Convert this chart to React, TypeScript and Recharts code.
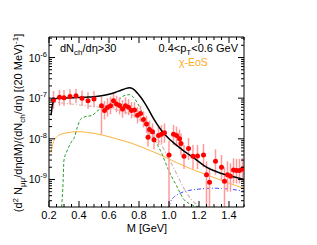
import { ComposedChart, Line, Scatter, XAxis, YAxis, ErrorBar } from "recharts";

// measured points: mass, yield, bottom and top of the error bar
const dataMass = [0.23, 0.27, 0.3, 0.34, 0.38, 0.42, 0.46, 0.5, 0.55, 0.57, 0.59, 0.61, 0.63, 0.65, 0.67, 0.69, 0.71, 0.73, 0.75, 0.77, 0.79, 0.81, 0.83, 0.85, 0.86, 0.87, 0.89, 0.9, 0.93, 0.95, 0.97, 1.0, 1.03, 1.05, 1.07, 1.08, 1.1, 1.13, 1.16, 1.19, 1.23, 1.25, 1.27, 1.31, 1.35, 1.37, 1.39, 1.41, 1.43, 1.45, 1.47, 1.49];
const dataYield = [9.0e-8, 1.05e-7, 1.03e-7, 1.1e-7, 1.15e-7, 1.0e-7, 8.7e-8, 9.6e-8, 6.5e-8, 5.0e-8, 5.9e-8, 6.5e-8, 8.6e-8, 7.2e-8, 6.6e-8, 5.4e-8, 6.5e-8, 6.0e-8, 5.0e-8, 5.1e-8, 3.8e-8, 4.2e-8, 3.0e-8, 2.3e-8, 1.1e-8, 1.7e-8, 1.5e-8, 9.5e-9, 1.2e-8, 1.3e-8, 1.4e-8, 4.0e-9, 1.3e-8, 1.2e-8, 1.0e-8, 7.7e-9, 3.7e-9, 5.8e-9, 3.7e-9, 3.8e-9, 4.0e-9, 1.3e-9, 8.5e-10, 2.8e-9, 2.0e-9, 9.0e-10, 1.3e-9, 1.2e-9, 1.7e-9, 1.65e-9, 1.65e-9, 1.8e-9];
const dataLow = [5.5e-8, 6.5e-8, 6.5e-8, 7e-8, 7.5e-8, 6.5e-8, 5.5e-8, 6e-8, 1.3e-8, 3e-8, 3.5e-8, 4e-8, 5.5e-8, 4.5e-8, 4e-8, 3.3e-8, 4e-8, 3.8e-8, 3.2e-8, 3.3e-8, 2.4e-8, 2.7e-8, 1.9e-8, 1.4e-8, 6.5e-9, 1.05e-8, 9e-9, 5.5e-9, 7e-9, 7.5e-9, 8e-9, 2.1e-10, 7e-9, 6.5e-9, 5.5e-9, 4e-9, 1.8e-9, 3e-9, 1.8e-9, 1.8e-9, 2e-9, 2.1e-10, 2.1e-10, 1.3e-9, 9e-10, 2.1e-10, 5e-10, 5e-10, 8e-10, 8e-10, 8e-10, 9e-10];
const dataHigh = [1.5e-7, 1.6e-7, 1.6e-7, 1.65e-7, 1.7e-7, 1.55e-7, 1.4e-7, 1.5e-7, 1.1e-7, 8.5e-8, 1e-7, 1.1e-7, 1.35e-7, 1.15e-7, 1.05e-7, 9e-8, 1.05e-7, 9.5e-8, 8e-8, 8e-8, 6e-8, 6.5e-8, 4.7e-8, 3.7e-8, 1.8e-8, 2.8e-8, 2.4e-8, 1.6e-8, 2e-8, 2.2e-8, 2.4e-8, 9e-9, 2.2e-8, 2e-8, 1.7e-8, 1.35e-8, 7e-9, 1.05e-8, 7e-9, 7e-9, 7.5e-9, 2.8e-9, 2e-9, 5.5e-9, 4e-9, 2e-9, 2.8e-9, 2.5e-9, 3.3e-9, 3.2e-9, 3.2e-9, 3.4e-9];

// model curves
const totalMass = [0.212, 0.216, 0.22, 0.23, 0.24, 0.26, 0.3, 0.35, 0.4, 0.45, 0.5, 0.55, 0.6, 0.64, 0.68, 0.71, 0.735, 0.76, 0.78, 0.8, 0.83, 0.86, 0.9, 0.95, 1.0, 1.05, 1.1, 1.17, 1.25, 1.35, 1.45, 1.5];
const totalYield = [3.8e-8, 4.5e-8, 6e-8, 8.5e-8, 9.6e-8, 1.0e-7, 1.01e-7, 1.02e-7, 1.04e-7, 1.06e-7, 1.09e-7, 1.15e-7, 1.25e-7, 1.38e-7, 1.57e-7, 1.72e-7, 1.8e-7, 1.7e-7, 1.45e-7, 1.2e-7, 8.5e-8, 5.5e-8, 3e-8, 1.6e-8, 1e-8, 7e-9, 5e-9, 3.3e-9, 2.0e-9, 1.4e-9, 1.12e-9, 1.0e-9];

const rhoMass = [0.284, 0.292, 0.3, 0.32, 0.35, 0.37, 0.39, 0.41, 0.43, 0.46, 0.49, 0.52, 0.56, 0.6, 0.64, 0.67, 0.7, 0.735, 0.76, 0.79, 0.82, 0.85, 0.89, 0.95, 1.0, 1.05, 1.1, 1.15, 1.2];
const rhoYield = [2.1e-10, 6e-10, 3e-9, 5e-9, 8.5e-9, 1.1e-8, 2e-8, 3e-8, 3.4e-8, 3.6e-8, 3.8e-8, 4.8e-8, 5.8e-8, 6.6e-8, 7.6e-8, 9.5e-8, 1.15e-7, 1.22e-7, 1.08e-7, 7.5e-8, 4.5e-8, 2.5e-8, 1.2e-8, 4.5e-9, 1.6e-9, 7e-10, 3.2e-10, 2.4e-10, 2.1e-10];

const cocktailMass = [0.22, 0.3, 0.4, 0.5, 0.6, 0.7, 0.76, 0.8, 0.85, 0.9, 0.95, 1.0, 1.05, 1.1, 1.15, 1.21];
const cocktailYield = [8e-8, 7.5e-8, 6.8e-8, 6.2e-8, 5.6e-8, 4.6e-8, 3.8e-8, 3e-8, 2.2e-8, 1.4e-8, 7e-9, 3.2e-9, 1.4e-9, 6e-10, 3.2e-10, 2.1e-10];

const qgpMass = [0.212, 0.22, 0.23, 0.25, 0.28, 0.32, 0.38, 0.45, 0.55, 0.65, 0.75, 0.85, 0.95, 1.05, 1.15, 1.25, 1.35, 1.45, 1.5];
const qgpYield = [4.5e-9, 6e-9, 8.5e-9, 1.1e-8, 1.3e-8, 1.4e-8, 1.5e-8, 1.45e-8, 1.25e-8, 1.0e-8, 7.8e-9, 5.6e-9, 3.9e-9, 2.6e-9, 1.8e-9, 1.3e-9, 9.5e-10, 7e-10, 6e-10];

const charmMass = [1.0, 1.01, 1.03, 1.06, 1.1, 1.15, 1.2, 1.25, 1.3, 1.35, 1.4, 1.45, 1.5];
const charmYield = [2.1e-10, 2.8e-10, 3.6e-10, 4.3e-10, 5e-10, 5.5e-10, 5.8e-10, 6e-10, 6.1e-10, 6e-10, 5.8e-10, 5.5e-10, 5.1e-10];

const xTicks = [0.2, 0.25, 0.3, 0.35, 0.4, 0.45, 0.5, 0.55, 0.6, 0.65, 0.7, 0.75, 0.8, 0.85, 0.9, 0.95, 1.0, 1.05, 1.1, 1.15, 1.2, 1.25, 1.3, 1.35, 1.4, 1.45, 1.5];
const yTicks = [3e-10, 4e-10, 5e-10, 6e-10, 7e-10, 8e-10, 9e-10, 1e-9, 2e-9, 3e-9, 4e-9, 5e-9, 6e-9, 7e-9, 8e-9, 9e-9, 1e-8, 2e-8, 3e-8, 4e-8, 5e-8, 6e-8, 7e-8, 8e-8, 9e-8, 1e-7, 2e-7, 3e-7, 4e-7, 5e-7, 6e-7, 7e-7, 8e-7, 9e-7, 1e-6, 2e-6, 3e-6];

const xDomain = [0.2, 1.5];
const yDomain = [2.1e-10, 3.2e-6];

const toXY = (xs: number[], ys: number[]) => xs.map((x, i) => ({ x, y: ys[i] }));

const points = dataMass.map((x, i) => ({
  x,
  y: dataYield[i],
  err: [dataYield[i] - dataLow[i], dataHigh[i] - dataYield[i]],
}));

// invisible series so the top and right frame axes get built
const frameCorners = toXY(xDomain, yDomain);

const isMajorX = (v: number) => Math.abs(v * 5 - Math.round(v * 5)) < 1e-6;
const isMajorY = (v: number) => {
  const e = Math.log10(v);
  return Math.abs(e - Math.round(e)) < 1e-6;
};

const BottomTick = ({ x, y, payload }: any) => {
  const major = isMajorX(payload.value);
  return (
    <g>
      <line x1={x} x2={x} y1={y} y2={y - (major ? 6 : 3)} stroke="#000" />
      {major && (
        <text x={x} y={y + 11.5} textAnchor="middle" fontSize={11}>
          {payload.value.toFixed(1)}
        </text>
      )}
    </g>
  );
};

const TopTick = ({ x, y, payload }: any) => {
  const major = isMajorX(payload.value);
  return <line x1={x} x2={x} y1={y} y2={y + (major ? 6 : 3)} stroke="#000" />;
};

const LeftTick = ({ x, y, payload }: any) => {
  const major = isMajorY(payload.value);
  const e = Math.round(Math.log10(payload.value));
  return (
    <g>
      <line x1={x} x2={x + (major ? 6 : 3)} y1={y} y2={y} stroke="#000" />
      {major && (
        <text x={x - 2} y={y + 4} textAnchor="end" fontSize={10.5}>
          10
          <tspan dy={-5} fontSize={7.5}>
            {e}
          </tspan>
        </text>
      )}
    </g>
  );
};

const RightTick = ({ x, y, payload }: any) => {
  const major = isMajorY(payload.value);
  return <line x1={x} x2={x - (major ? 6 : 3)} y1={y} y2={y} stroke="#000" />;
};

export default function App() {
  return (
    <ComposedChart
      width={300}
      height={232}
      margin={{ top: 28, right: 63, bottom: 0, left: 0 }}
      style={{ fontFamily: "'Liberation Sans', Arial, sans-serif" }}
    >
      <XAxis
        dataKey="x"
        type="number"
        domain={xDomain}
        allowDataOverflow
        ticks={xTicks}
        interval={0}
        tickSize={0}
        tickMargin={0}
        height={33}
        stroke="#000"
        tick={<BottomTick />}
      />
      <XAxis
        xAxisId="top"
        dataKey="x"
        orientation="top"
        type="number"
        domain={xDomain}
        allowDataOverflow
        ticks={xTicks}
        interval={0}
        tickSize={0}
        tickMargin={0}
        height={1}
        stroke="#000"
        tick={<TopTick />}
      />
      <YAxis
        dataKey="y"
        scale="log"
        type="number"
        domain={yDomain}
        allowDataOverflow
        ticks={yTicks}
        interval={0}
        tickSize={0}
        tickMargin={0}
        width={41}
        stroke="#000"
        tick={<LeftTick />}
      />
      <YAxis
        yAxisId="right"
        dataKey="y"
        orientation="right"
        scale="log"
        type="number"
        domain={yDomain}
        allowDataOverflow
        ticks={yTicks}
        interval={0}
        tickSize={0}
        tickMargin={0}
        width={1}
        stroke="#000"
        tick={<RightTick />}
      />

      <Line data={frameCorners} xAxisId="top" yAxisId="right" dataKey="y" stroke="none" dot={false} isAnimationActive={false} />
      <Line data={toXY(qgpMass, qgpYield)} dataKey="y" type="monotone" stroke="#ffb13b" strokeWidth={1} dot={false} isAnimationActive={false} />
      <Line data={toXY(charmMass, charmYield)} dataKey="y" type="monotone" stroke="#3a4cff" strokeWidth={1} strokeDasharray="4 2 1 2" dot={false} isAnimationActive={false} />
      <Line data={toXY(cocktailMass, cocktailYield)} dataKey="y" type="monotone" stroke="#d6b4b4" strokeWidth={1.2} strokeDasharray="4 2 1 2" dot={false} isAnimationActive={false} />
      <Line data={toXY(rhoMass, rhoYield)} dataKey="y" type="monotone" stroke="#2a9d2a" strokeWidth={1} strokeDasharray="3 2" dot={false} isAnimationActive={false} />
      <Scatter
        data={points}
        isAnimationActive={false}
        shape={(p: any) => <circle cx={p.cx} cy={p.cy} r={2.5} fill="#ff0000" />}
      >
        <ErrorBar dataKey="err" direction="y" width={0} stroke="#ff9a9a" strokeWidth={1.5} isAnimationActive={false} />
      </Scatter>
      <Line data={toXY(totalMass, totalYield)} dataKey="y" type="monotone" stroke="#000" strokeWidth={1.5} dot={false} isAnimationActive={false} />

      <text x={52} y={44} fontSize={11}>
        dN<tspan dy={3} fontSize={8}>ch</tspan>
        <tspan dy={-3}>/dη&gt;30</tspan>
      </text>
      <text x={230} y={44} fontSize={11} textAnchor="end">
        0.4&lt;p<tspan dy={3} fontSize={8}>T</tspan>
        <tspan dy={-3}>&lt;0.6 GeV</tspan>
      </text>
      <text x={171} y={58} fontSize={10.5} fill="#ffaa22">
        χ-EoS
      </text>
      <text x={139} y={224} fontSize={11} textAnchor="middle">
        M [GeV]
      </text>
      <text transform="translate(14,115) rotate(-90)" textAnchor="middle" fontSize={11}>
        (d<tspan dy={-4} fontSize={8}>2</tspan>
        <tspan dy={4}> N</tspan>
        <tspan dy={3} fontSize={8}>μμ</tspan>
        <tspan dy={-3}>/dηdM)/(dN</tspan>
        <tspan dy={3} fontSize={8}>ch</tspan>
        <tspan dy={-3}>/dη) [(20 MeV)</tspan>
        <tspan dy={-4} fontSize={8}>-1</tspan>
        <tspan dy={4}>]</tspan>
      </text>
    </ComposedChart>
  );
}
